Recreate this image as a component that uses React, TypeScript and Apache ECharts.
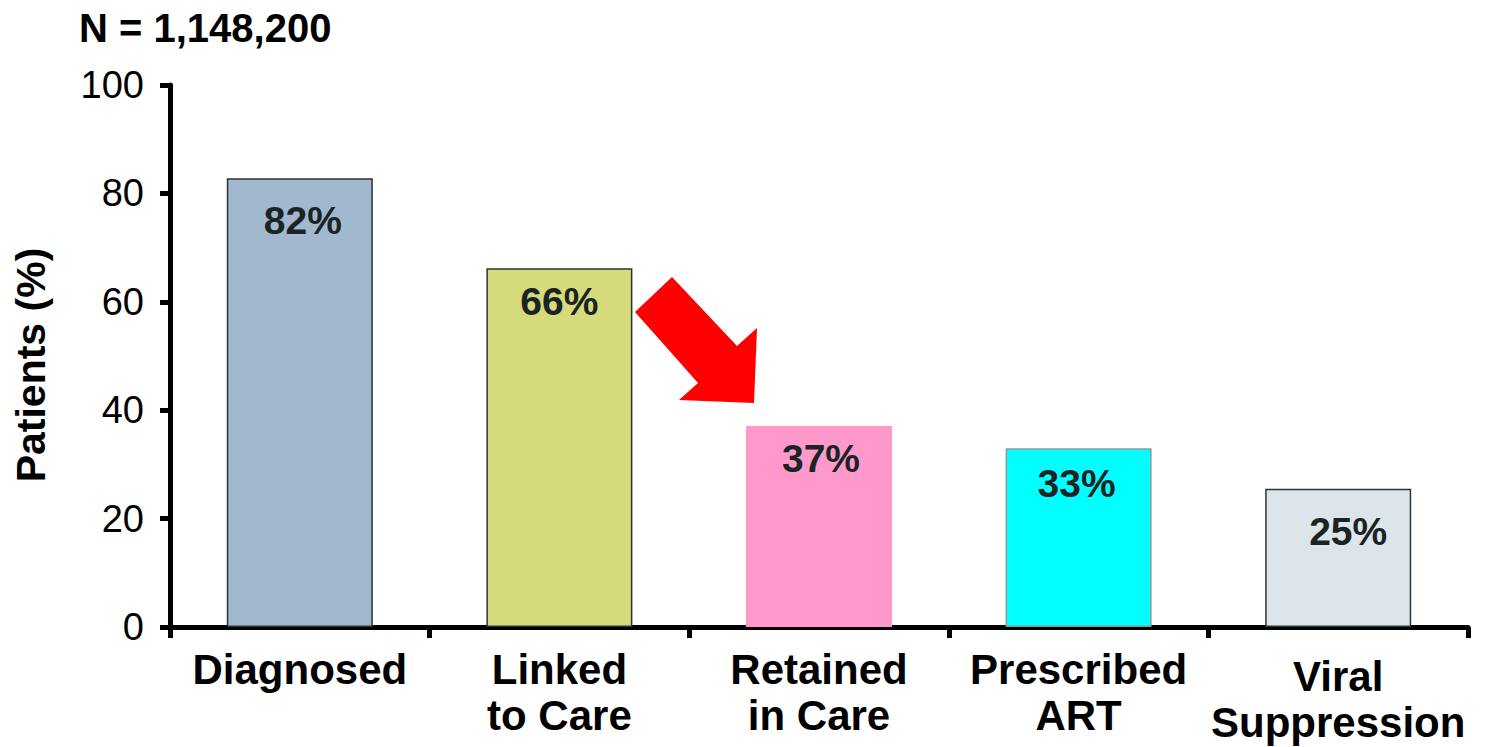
import React, { useEffect, useRef } from "react";
import * as echarts from "echarts";

const categories = ["Diagnosed", "Linked\nto Care", "Retained\nin Care", "Prescribed\nART", "Viral\nSuppression"];
const values = [82.8, 66.2, 37.1, 33.0, 25.5];
const valueLabels = ["82%", "66%", "37%", "33%", "25%"];
const barColors = ["#a2b8cf", "#d5db7b", "#ff99cc", "#00ffff", "#dce6ea"];
const borderColors = ["#2b3333", "#2b3333", "transparent", "#8a9a9a", "#2b3333"];
const labelOffsets = [[3, 23], [0, 14], [2, 13], [-2, 16], [10, 23]];
const yTicks = { min: 0, max: 100, interval: 20 };
const titleText = "N = 1,148,200";
const yName = "Patients (%)";

const FONT = "'Liberation Sans', Arial, Helvetica, sans-serif";

export default function App() {
  const ref = useRef<HTMLDivElement>(null);
  useEffect(() => {
    if (!ref.current) return;
    const chart = echarts.init(ref.current, null, { renderer: "svg" });
    chart.setOption({
      animation: false,
      backgroundColor: "#ffffff",
      title: {
        text: titleText,
        left: 74,
        top: 3,
        textStyle: { fontFamily: FONT, fontSize: 40, fontWeight: "bold", color: "#000" },
      },
      grid: { left: 170, right: 19, top: 85, bottom: 120 },
      xAxis: {
        type: "category",
        data: categories.map((c, i) =>
          i === 4 ? { value: c, textStyle: { padding: [7, 0, 0, 0] } } : c
        ),
        axisLine: { lineStyle: { color: "#000", width: 5 } },
        axisTick: { show: true, length: 11, lineStyle: { color: "#000", width: 5 } },
        axisLabel: {
          interval: 0,
          margin: 19,
          color: "#000",
          fontFamily: FONT,
          fontSize: 42,
          fontWeight: "bold",
          lineHeight: 46,
          align: "center",
        },
      },
      yAxis: {
        type: "value",
        min: yTicks.min,
        max: yTicks.max,
        interval: yTicks.interval,
        name: yName,
        nameLocation: "middle",
        nameGap: 119,
        nameTextStyle: {
          fontFamily: FONT,
          fontSize: 41,
          fontWeight: "bold",
          color: "#000",
          padding: [0, 18, 0, 0],
        },
        axisLine: { show: true, lineStyle: { color: "#000", width: 5 } },
        axisTick: { show: true, length: 10, lineStyle: { color: "#000", width: 5 } },
        axisLabel: { margin: 26, color: "#000", fontFamily: FONT, fontSize: 38 },
        splitLine: { show: false },
      },
      series: [
        {
          type: "bar",
          barWidth: 146,
          data: values.map((v, i) => ({
            value: v,
            itemStyle: {
              color: barColors[i],
              borderColor: borderColors[i],
              borderWidth: borderColors[i] === "transparent" ? 0 : 1.5,
            },
            label: { offset: labelOffsets[i] },
          })),
          label: {
            show: true,
            position: "insideTop",
            distance: 0,
            formatter: (p: any) => valueLabels[p.dataIndex],
            fontFamily: FONT,
            fontSize: 39,
            fontWeight: "bold",
            color: "#1a2424",
          },
        },
      ],
      graphic: [
        {
          type: "polygon",
          shape: {
            points: [
              [672, 277],
              [635, 312],
              [698, 383],
              [679, 400],
              [754, 403],
              [757, 328],
              [737, 346],
            ],
          },
          style: { fill: "#ff0000" },
        },
      ],
    });
    return () => chart.dispose();
  }, []);
  return (
    <div
      ref={ref}
      style={{ position: "fixed", left: 0, top: 0, width: 1487, height: 747 }}
    />
  );
}
